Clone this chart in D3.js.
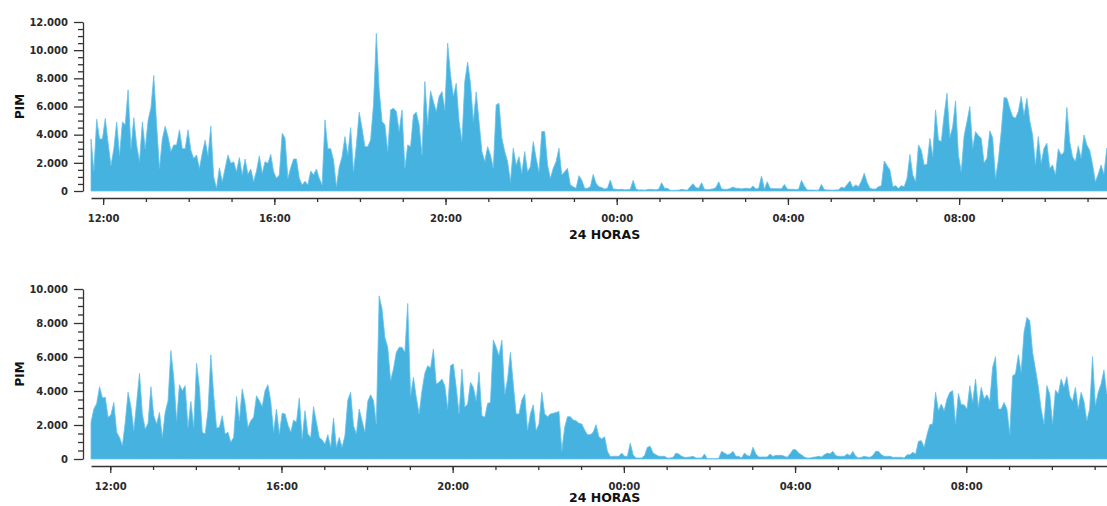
<!DOCTYPE html>
<html>
<head>
<meta charset="utf-8">
<style>
  body { margin: 0; background: #fff; }
  svg { display: block; }
  .axis path, .axis line { stroke: #333; stroke-width: 1.3; }
  .axis text { fill: #2a2a2a; font-family: "DejaVu Sans", sans-serif; font-size: 10px; font-weight: bold; }
  .label { font-family: "DejaVu Sans", sans-serif; font-weight: bold; fill: #111; }
</style>
</head>
<body>
<svg id="chart" width="1107" height="506"></svg>
<script src="https://cdn.jsdelivr.net/npm/d3@7"></script>
<script>
// PIM em blocos de 4 minutos, 24 horas por painel
var stepMin = 4;
var startTop = "11:43";
var startBottom = "11:33";

var pimTop = [
  3700,1400,5100,3700,3700,5160,3400,1800,3000,4900,
  2500,4900,4700,7180,3000,5200,3270,2080,4900,3000,
  5000,5900,8200,4700,1600,3700,4600,3860,2800,3270,
  3270,4340,3000,3000,4340,2900,2300,2560,1600,2680,
  3600,2500,4600,1000,190,1650,660,1600,2560,1970,
  2080,1370,2370,1140,2270,1185,1560,660,1420,2500,
  1250,2080,1970,2600,1370,900,1140,4100,3740,900,
  1650,2270,2270,900,430,700,430,1420,1140,1560,
  900,430,5050,3000,3000,2200,310,1700,2440,3860,
  2560,4500,1370,3270,5590,4450,3150,3150,3630,6100,
  11190,7180,4930,4700,2800,5760,5880,5640,4220,5760,
  1610,3270,3150,5400,5590,4690,2560,7770,4690,7110,
  6350,5640,6710,7060,5760,10500,8250,6710,7650,4930,
  3510,7770,9150,7650,4930,7020,4930,2800,2090,3150,
  2560,1610,6110,6230,3740,2800,2090,660,3030,1850,
  2440,1260,2800,1370,1730,3510,2320,1370,4220,4220,
  1850,900,1610,2090,3030,1140,1370,1610,430,310,
  190,1090,780,190,190,310,1180,545,310,240,
  140,190,780,150,120,100,120,80,100,120,
  760,150,70,80,60,100,120,100,80,150,
  590,190,190,50,40,50,60,120,80,60,
  300,520,240,200,590,120,100,120,150,240,
  660,150,120,120,180,280,190,190,150,190,
  190,160,355,150,190,1070,120,660,200,165,
  165,165,165,470,150,120,120,110,120,760,
  355,70,70,70,60,60,470,100,70,70,
  60,70,80,280,200,470,710,250,430,310,
  700,1260,600,200,140,140,310,380,2130,1800,
  1490,310,380,190,380,300,900,2600,1140,660,
  3270,2900,1850,1900,3740,2440,5760,3630,3510,5400,
  6940,3800,4570,6400,2560,1370,3930,4930,6000,3030,
  4220,3930,3740,2000,2320,4270,3790,900,2200,4200,
  6640,6590,5880,5290,5170,5640,6710,5400,6590,4980,
  3980,1850,3860,1970,3030,3390,1610,1850,1140,2990,
  2560,2750,5930,3510,2440,2090,3200,2320,3980,3270,
  2900,1900,660,1190,1850,1190,3030,2560,2000,1500
];

var pimBottom = [
  2160,2940,3270,4250,3590,3630,2450,2610,3330,1570,
  1270,780,2160,3920,3080,1670,3330,5040,2650,1760,
  2100,4250,2550,2060,2740,1270,2740,3430,6370,4800,
  2250,4370,4020,4310,1860,3390,1860,5630,4210,1570,
  1470,2840,6130,3780,1820,1860,2550,1470,1570,980,
  1270,3670,2250,4120,3270,1860,2250,2450,3720,3430,
  3080,4020,4370,3390,1570,2940,1470,2690,2650,2020,
  1570,2290,2160,3590,1180,2840,1470,1270,3080,2160,
  1270,1120,880,1430,690,2410,690,1270,690,1370,
  3470,3920,1960,1470,2940,2250,1570,3390,3780,3430,
  2060,9600,8820,7150,6570,4610,5290,6270,6570,6570,
  6270,9150,3720,4800,3630,2650,4020,5040,5490,5350,
  6470,4410,4510,4700,4310,2940,5490,5590,4210,2650,
  5290,3040,3230,4510,4210,3430,5100,2550,2450,3270,
  3330,7000,6570,6080,7000,3820,4700,6270,4410,2650,
  2650,3470,3820,1670,2650,3190,1670,2060,3920,2650,
  2490,2650,2690,2740,2800,490,1860,2490,2490,2290,
  2250,2100,2060,1710,1430,1430,1570,2020,1310,1180,
  1310,450,140,160,160,160,350,160,160,940,
  250,60,60,60,200,690,745,350,250,160,
  160,160,60,60,100,350,290,160,100,100,
  120,160,60,60,60,290,20,20,20,20,
  40,450,350,250,300,450,160,160,60,350,
  200,160,690,300,120,120,120,120,290,150,
  215,215,215,160,100,300,550,550,350,250,
  120,60,60,100,120,160,120,250,350,300,
  450,200,160,160,160,290,200,450,160,60,
  100,160,120,100,200,450,450,250,160,160,
  160,100,100,100,100,60,250,250,390,290,
  1040,1080,690,1430,2020,2060,3920,2840,3230,2840,
  3530,3920,4020,2060,3860,3190,3190,2940,4310,3330,
  4700,3040,4210,3530,3780,3430,5390,6020,2940,2940,
  3330,2940,1470,4900,5000,6130,5100,7450,8330,8130,
  6270,5290,4250,2940,2060,4310,3820,2060,4060,3820,
  4700,4210,4840,3720,3390,4210,2940,3920,3390,2250,
  2940,6020,3140,3920,4410,5230,3820,3720,3000,2500
];

var yTicksTop = [0, 2000, 4000, 6000, 8000, 10000, 12000];
var yTicksBottom = [0, 2000, 4000, 6000, 8000, 10000];
var minorStep = 500;
var hourTicks = ["12:00", "16:00", "20:00", "00:00", "04:00", "08:00"];
var xTitle = "24 HORAS";
var yTitle = "PIM";

var parseHM = d3.timeParse("%H:%M");
var fmtPt = d3.formatLocale({decimal: ",", thousands: ".", grouping: [3], currency: ["", ""]}).format(",");
var svg = d3.select("#chart");

var panels = [
  {start: startTop, values: pimTop, yTicks: yTicksTop, top: 22, bottom: 191, titleY: 239},
  {start: startBottom, values: pimBottom, yTicks: yTicksBottom, top: 289, bottom: 459, titleY: 502}
];

var x0 = 91, pxHour = 42.8, axisX = 83;

panels.forEach(function(p) {
  var t0 = parseHM(p.start);
  var t1 = d3.timeHour.offset(t0, 24);
  var x = d3.scaleTime().domain([t0, t1]).range([x0, x0 + 24 * pxHour]);
  var yMax = d3.max(p.yTicks);
  var y = d3.scaleLinear().domain([0, yMax]).range([p.bottom, p.top]);

  var data = p.values.map(function(v, i) {
    return {t: d3.timeMinute.offset(t0, i * stepMin), v: v};
  });

  var area = d3.area()
    .x(function(d) { return x(d.t); })
    .y0(y(0))
    .y1(function(d) { return y(d.v); });

  svg.append("path")
    .datum(data)
    .attr("d", area)
    .attr("fill", "#45b2e0")
    .attr("stroke", "#66c1e9")
    .attr("stroke-width", 0.8)
    .attr("stroke-linejoin", "miter");

  // eixo Y
  svg.append("g")
    .attr("class", "axis")
    .attr("transform", "translate(" + axisX + ",0)")
    .call(d3.axisLeft(y).tickValues(p.yTicks).tickFormat(fmtPt)
      .tickSize(9).tickPadding(6).tickSizeOuter(0));

  var minors = d3.range(0, yMax, minorStep).filter(function(v) { return p.yTicks.indexOf(v) < 0; });
  var gm = svg.append("g")
    .attr("class", "axis")
    .attr("transform", "translate(" + axisX + ",0)")
    .call(d3.axisLeft(y).tickValues(minors).tickFormat("").tickSize(5).tickSizeOuter(0));
  gm.select(".domain").remove();

  // eixo X
  var axY = p.bottom + 7;
  var majors = hourTicks.map(function(h) {
    var d = parseHM(h);
    if (d < t0) d = d3.timeDay.offset(d, 1);
    return d;
  });
  var hours = x.ticks(d3.timeHour.every(1)).filter(function(d) { return d.getMinutes() === 0; });

  svg.append("g")
    .attr("class", "axis")
    .attr("transform", "translate(0," + axY + ")")
    .call(d3.axisBottom(x).tickValues(hours).tickFormat("").tickSize(4).tickSizeOuter(0));

  svg.append("g")
    .attr("class", "axis")
    .attr("transform", "translate(0," + axY + ")")
    .call(d3.axisBottom(x).tickValues(majors).tickFormat(d3.timeFormat("%H:%M"))
      .tickSize(7).tickPadding(10).tickSizeOuter(0))
    .select(".domain").remove();

  svg.append("text")
    .attr("class", "label")
    .attr("x", x0 + 12 * pxHour)
    .attr("y", p.titleY)
    .attr("text-anchor", "middle")
    .attr("font-size", 12.5)
    .text(xTitle);

  svg.append("text")
    .attr("class", "label")
    .attr("transform", "translate(24," + ((p.top + p.bottom) / 2) + ") rotate(-90)")
    .attr("text-anchor", "middle")
    .attr("font-size", 12)
    .text(yTitle);
});

svg.selectAll(".axis").attr("font-family", null).attr("font-size", null);
</script>
</body>
</html>
